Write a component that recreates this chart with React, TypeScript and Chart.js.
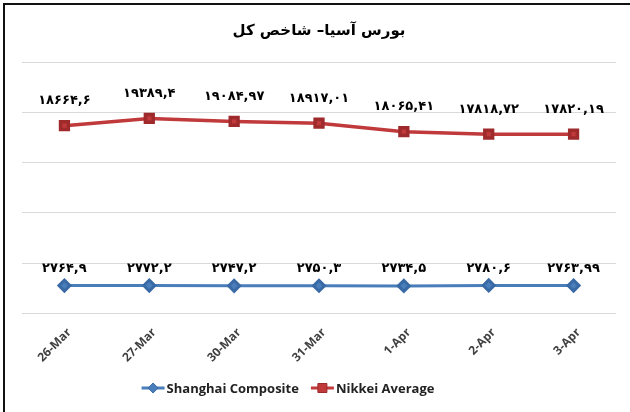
import React, { useEffect, useRef } from "react";
import { Chart, registerables } from "chart.js";

Chart.register(...registerables);

const categories = ["26-Mar", "27-Mar", "30-Mar", "31-Mar", "1-Apr", "2-Apr", "3-Apr"];
const shanghaiValues = [2764.9, 2772.2, 2747.2, 2750.3, 2734.5, 2780.6, 2763.99];
const nikkeiValues = [18664.6, 19389.4, 19084.97, 18917.01, 18065.41, 17818.72, 17820.19];
const yMin = 0;
const yMax = 25000;
const yStep = 5000;
const titleText = "بورس آسیا– شاخص کل";
const seriesNames = ["Shanghai Composite", "Nikkei Average"];

const BLUE = "#4a7ebb";
const BLUE_DARK = "#3a6aa5";
const RED = "#c0393b";
const RED_DARK = "#9e2a2c";

const persianDigits = "۰۱۲۳۴۵۶۷۸۹";
function toPersian(v: number): string {
  return String(v)
    .replace(/[0-9]/g, (d) => persianDigits[Number(d)])
    .replace(".", ",");
}

function drawMarker(ctx: CanvasRenderingContext2D, kind: string, x: number, y: number, r: number, fill: string, stroke: string) {
  ctx.fillStyle = fill;
  ctx.strokeStyle = stroke;
  ctx.lineWidth = 1;
  ctx.beginPath();
  if (kind === "rectRot") {
    ctx.moveTo(x, y - r);
    ctx.lineTo(x + r, y);
    ctx.lineTo(x, y + r);
    ctx.lineTo(x - r, y);
    ctx.closePath();
  } else {
    ctx.rect(x - r + 0.5, y - r + 0.5, 2 * r - 1, 2 * r - 1);
  }
  ctx.fill();
  ctx.stroke();
}

const dataLabelPlugin = {
  id: "dataLabels",
  afterDatasetsDraw(chart: any) {
    const ctx = chart.ctx;
    ctx.save();
    ctx.font = "bold 13px 'DejaVu Sans'";
    ctx.fillStyle = "#000";
    ctx.textAlign = "center";
    ctx.textBaseline = "middle";
    chart.data.datasets.forEach((ds: any, i: number) => {
      const meta = chart.getDatasetMeta(i);
      const off = ds.labelOffset || 20;
      meta.data.forEach((pt: any, j: number) => {
        ctx.fillText(toPersian(ds.data[j]), pt.x, pt.y - off);
      });
    });
    ctx.restore();
  },
};

const legendPlugin = {
  id: "customLegend",
  afterDraw(chart: any) {
    const ctx = chart.ctx;
    const iconW = 23;
    const iconGap = 2;
    const itemGap = 12;
    const shift = -31;
    const y = chart.height - 24;
    ctx.save();
    ctx.font = "bold 13px 'Open Sans'";
    ctx.textBaseline = "middle";
    ctx.textAlign = "left";
    const items = chart.data.datasets.map((ds: any) => ({
      ds,
      w: iconW + iconGap + ctx.measureText(ds.label).width,
    }));
    const total = items.reduce((s: number, it: any) => s + it.w, 0) + itemGap * (items.length - 1);
    const center = (chart.chartArea.left + chart.chartArea.right) / 2 + shift;
    let x = center - total / 2;
    items.forEach((it: any) => {
      const ds = it.ds;
      ctx.strokeStyle = ds.borderColor;
      ctx.lineWidth = 3;
      ctx.beginPath();
      ctx.moveTo(x, y);
      ctx.lineTo(x + iconW, y);
      ctx.stroke();
      drawMarker(ctx, ds.pointStyle, x + iconW / 2, y, 5, ds.pointBackgroundColor, ds.pointBorderColor);
      ctx.fillStyle = "#222";
      ctx.fillText(ds.label, x + iconW + iconGap, y + 1);
      x += it.w + itemGap;
    });
    ctx.restore();
  },
};

export default function App() {
  const ref = useRef<HTMLCanvasElement>(null);
  useEffect(() => {
    const chart = new Chart(ref.current!, {
      type: "line",
      data: {
        labels: categories,
        datasets: [
          {
            label: seriesNames[0],
            data: shanghaiValues,
            borderColor: BLUE,
            backgroundColor: BLUE,
            pointBackgroundColor: BLUE,
            pointBorderColor: BLUE_DARK,
            pointStyle: "rectRot",
            pointRadius: 5.5,
            borderWidth: 3,
            tension: 0,
            labelOffset: 17,
          } as any,
          {
            label: seriesNames[1],
            data: nikkeiValues,
            borderColor: RED,
            backgroundColor: RED,
            pointBackgroundColor: RED,
            pointBorderColor: RED_DARK,
            pointStyle: "rect",
            pointRadius: 5.5,
            borderWidth: 3.5,
            tension: 0,
            labelOffset: 25,
          } as any,
        ],
      },
      options: {
        animation: false,
        responsive: false,
        maintainAspectRatio: false,
        layout: { padding: { left: 22, right: 14, top: 8, bottom: 43 } },
        plugins: {
          title: {
            display: true,
            text: titleText,
            color: "#000",
            font: { size: 15, weight: "bold", family: "'DejaVu Sans'" },
            padding: { top: 14, bottom: 22 },
          },
          legend: { display: false },
          tooltip: { enabled: false },
        },
        scales: {
          x: {
            offset: true,
            grid: { display: false },
            border: { display: false },
            ticks: {
              maxRotation: 45,
              minRotation: 45,
              labelOffset: 5,
              padding: 4,
              color: "#404040",
              font: { size: 12, weight: "bold", family: "'Open Sans'" },
            },
          },
          y: {
            min: yMin,
            max: yMax,
            border: { display: false },
            grid: { color: "#d9d9d9", drawTicks: false },
            ticks: { stepSize: yStep, display: false },
          },
        },
      },
      plugins: [dataLabelPlugin, legendPlugin],
    });
    return () => chart.destroy();
  }, []);
  return (
    <div style={{ position: "fixed", left: 0, top: 0, width: 630, height: 412, background: "#fff" }}>
      <canvas ref={ref} width={630} height={412} style={{ position: "absolute", left: 0, top: 0 }} />
      <div
        style={{
          position: "absolute",
          left: 3,
          top: 3,
          right: 0,
          bottom: 0,
          borderLeft: "2px solid #111",
          borderTop: "2px solid #111",
          pointerEvents: "none",
        }}
      />
    </div>
  );
}
